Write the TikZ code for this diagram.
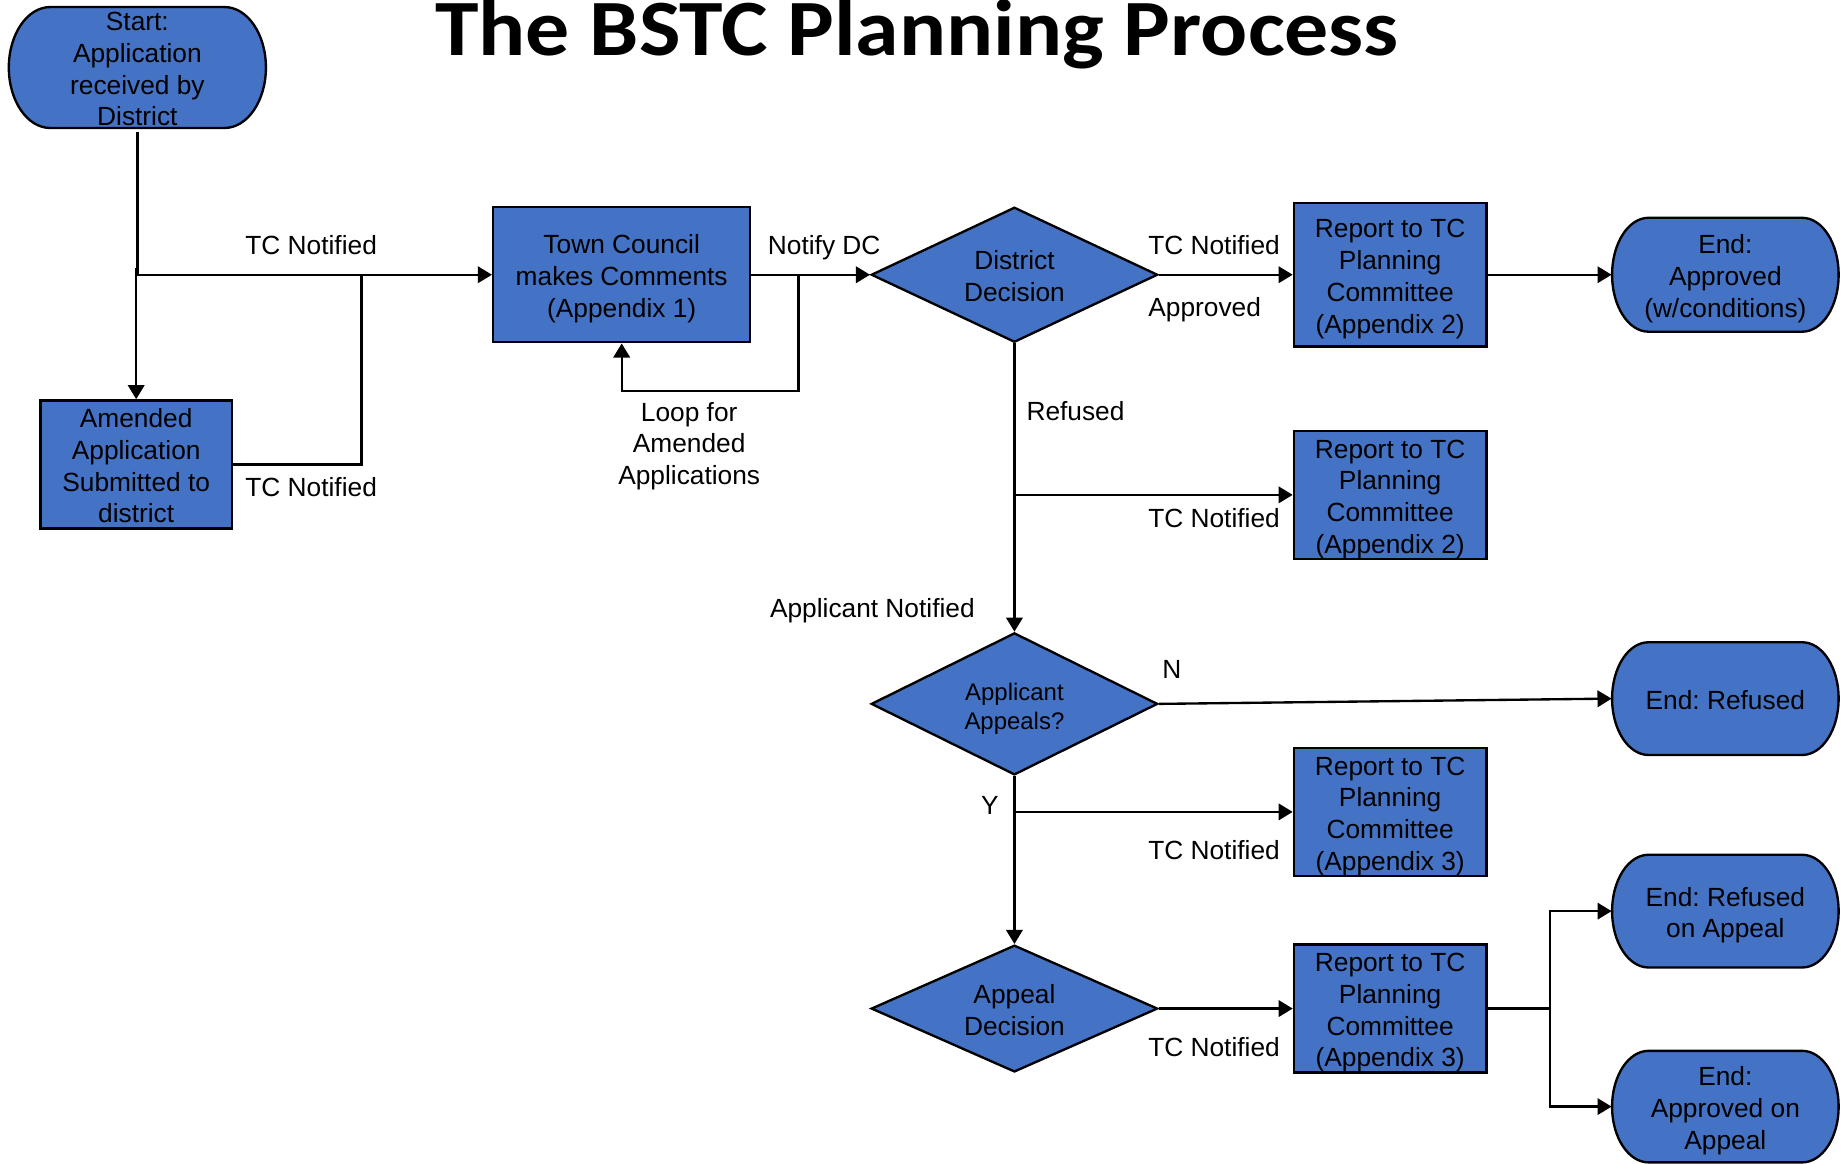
\documentclass[tikz,border=0pt]{standalone}
\usepackage{fontspec}
\setmainfont{Liberation Sans}
\newfontfamily\titlefont{Carlito}
\usetikzlibrary{shapes.geometric,arrows.meta,backgrounds}
\definecolor{bsblue}{HTML}{4472C4}
\newcommand\topstrut{\rule{0pt}{11.6pt}}
\newcommand\botstrut{\rule[-2.4pt]{0pt}{2.4pt}}
% terminator outline behind a named node: #1 name, #2 width (pt), #3 height (pt)
\newcommand\termshape[3]{%
  \pgfmathsetmacro\tmA{#2/2}%
  \pgfmathsetmacro\tmB{#3/2}%
  \pgfmathsetmacro\tmR{0.161*#2}%
  \pgfmathsetmacro\tmC{\tmA-\tmR}%
  \path[termfill, shift={(#1.center)}]
    (-\tmC pt, \tmB pt) -- (\tmC pt, \tmB pt)
    arc[start angle=90, end angle=-90, x radius=\tmR pt, y radius=\tmB pt]
    -- (-\tmC pt, -\tmB pt)
    arc[start angle=270, end angle=90, x radius=\tmR pt, y radius=\tmB pt] -- cycle;}
\begin{document}
\begin{tikzpicture}[x=0.5pt,y=-0.5pt,
  txt/.style={font=\fontsize{11.2}{13.5}\selectfont\frenchspacing, align=center, inner sep=0pt},
  smalltxt/.style={font=\fontsize{10.2}{12.5}\selectfont\frenchspacing},
  box/.style 2 args={txt, rectangle, draw=black, line width=1pt, fill=bsblue,
    minimum width=#1pt, minimum height=#2pt},
  decision/.style 2 args={txt, diamond, aspect=2.1, draw=black, line width=1pt, fill=bsblue,
    minimum width=#1pt, minimum height=#2pt},
  term/.style 2 args={txt, rectangle, minimum width=#1pt, minimum height=#2pt},
  termfill/.style={fill=bsblue, draw=black, line width=1pt},
  lbl/.style={txt},
  conn/.style={draw=black, line width=1pt},
  arr/.style={conn, -{Triangle[length=6pt, width=7pt]}}
]
\useasboundingbox (0,0) rectangle (1568,991);

% title
\node (title) [anchor=base, font=\titlefont\bfseries\fontsize{34}{40}\selectfont, inner sep=0pt]
  at (781,47) {\scalebox{1.1}[1]{The BSTC Planning Process}};

% nodes
\node (start) [term={109.5}{51.5}] at (117,57.5) {\topstrut Start:\\Application\\received by\\District\botstrut};
\node (amend) [box={81.5}{54.5}] at (116,395.5) {\topstrut Amended\\Application\\Submitted to\\district\botstrut};
\node (tc) [box={109.5}{57.5}] at (529.5,234) {\topstrut Town Council\\makes Comments\\(Appendix 1)\botstrut};
\node (dd) [decision={122}{57.5}] at (864,234) {\topstrut District\\Decision\botstrut};
\node (r1) [box={82}{61}] at (1184,234) {\topstrut Report to TC\\Planning\\Committee\\(Appendix 2)\botstrut};
\node (ea) [term={96.5}{48.5}] at (1469.5,234) {\topstrut End:\\Approved\\(w/conditions)\botstrut};
\node (r2) [box={82}{54.5}] at (1184,421.5) {\topstrut Report to TC\\Planning\\Committee\\(Appendix 2)\botstrut};
\node (aa) [decision={122}{60.5}, smalltxt] at (864,599.5) {\topstrut Applicant\\Appeals?\botstrut};
\node (er) [term={96.5}{48}] at (1469.5,595) {\topstrut End: Refused\botstrut};
\node (r3) [box={82}{54.5}] at (1184,691.5) {\topstrut Report to TC\\Planning\\Committee\\(Appendix 3)\botstrut};
\node (ad) [decision={122}{54}] at (864,859) {\topstrut Appeal\\Decision\botstrut};
\node (r4) [box={82}{54}] at (1184,859) {\topstrut Report to TC\\Planning\\Committee\\(Appendix 3)\botstrut};
\node (era) [term={96.5}{48}] at (1469.5,776) {\topstrut End: Refused\\on Appeal\botstrut};
\node (eaa) [term={96.5}{47.5}] at (1469.5,942.5) {\topstrut End:\\Approved on\\Appeal\botstrut};

\begin{scope}[on background layer]
  \termshape{start}{109.5}{51.5}
  \termshape{ea}{96.5}{48.5}
  \termshape{er}{96.5}{48}
  \termshape{era}{96.5}{48}
  \termshape{eaa}{96.5}{47.5}
\end{scope}

% junctions
\coordinate (j0) at (116,228);
\coordinate (j1) at (116,234);
\coordinate (j2) at (308,234);
\coordinate (j3) at (680,234);
\coordinate (lp) at (529.5,333);
\coordinate (j5) at (1320,859);

% connectors
\draw[conn] (start.south) -- (start.south |- j1) -- (j1);
\draw[arr] (j0) -- (amend.north);
\draw[arr] (j1) -- (tc.west);
\draw[conn] (amend.east) -| (j2);
\draw[arr] (tc.east) -- (dd.west);
\draw[arr] (j3) |- (lp) -- (tc.south);
\draw[arr] (dd.east) -- (r1.west);
\draw[arr] (r1.east) -- (ea.west);
\draw[arr] (dd.south) -- (aa.north);
\draw[arr] (dd.south |- r2.west) -- (r2.west);
\draw[arr] (aa.east) -- (er.west);
\draw[arr] (aa.south) -- (ad.north);
\draw[arr] (aa.south |- r3.west) -- (r3.west);
\draw[arr] (ad.east) -- (r4.west);
\draw[conn] (r4.east) -- (j5);
\draw[arr] (j5) |- (era.west);
\draw[arr] (j5) |- (eaa.west);

% labels
\node (l1) [lbl] at (265,209) {TC Notified};
\node (l2) [lbl] at (265,415) {TC Notified};
\node (l3) [lbl] at (1034,209) {TC Notified};
\node (l4) [lbl] at (1034,441) {TC Notified};
\node (l5) [lbl] at (1034,724) {TC Notified};
\node (l6) [lbl] at (1034,892) {TC Notified};
\node (lndc) [lbl] at (702,211) {Notify DC};
\node (lapp) [lbl] at (1026,264) {Approved};
\node (lloop) [lbl] at (587,380) {Loop for\\Amended\\Applications};
\node (lref) [lbl] at (916,350) {Refused};
\node (lan) [lbl] at (743,520) {Applicant Notified};
\node (ln) [lbl] at (998,570) {N};
\node (ly) [lbl] at (843,686) {Y};
\end{tikzpicture}
\end{document}
